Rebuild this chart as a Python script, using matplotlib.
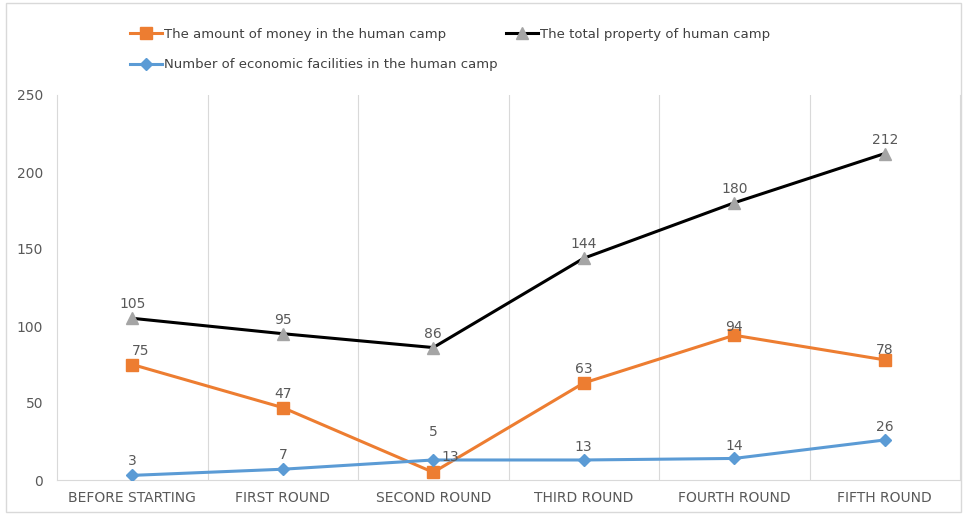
import matplotlib
matplotlib.use("Agg")
import matplotlib.pyplot as plt
from matplotlib.patches import Rectangle

categories = ["BEFORE STARTING", "FIRST ROUND", "SECOND ROUND", "THIRD ROUND", "FOURTH ROUND", "FIFTH ROUND"]
money = [75, 47, 5, 63, 94, 78]
total_property = [105, 95, 86, 144, 180, 212]
facilities = [3, 7, 13, 13, 14, 26]
yticks = [0, 50, 100, 150, 200, 250]

# label offsets in points (style)
money_off = [(6, 5), (0, 5), (0, 24), (0, 5), (0, 1), (0, 2)]
prop_off = [(0, 5), (0, 5), (0, 5), (0, 5), (0, 5), (0, 5)]
fac_off = [(0, 5), (0, 5), (12, -3), (0, 4), (0, 4), (0, 4)]

fig = plt.figure(figsize=(9.67, 5.14), dpi=100)
ax = fig.add_axes([57/967, 34/514, 903/967, 385/514])

x = list(range(len(categories)))
orange = "#ED7D31"
blue = "#5B9BD5"
grey = "#A5A5A5"

l1, = ax.plot(x, money, color=orange, lw=2.2, marker="s", ms=8, label="The amount of money in the human camp", zorder=3)
l2, = ax.plot(x, total_property, color="black", lw=2.2, marker="^", ms=8, mfc=grey, mec=grey, label="The total property of human camp", zorder=3)
l3, = ax.plot(x, facilities, color=blue, lw=2.2, marker="D", ms=6, label="Number of economic facilities in the human camp", zorder=3)

lab_col = "#595959"
for series, offs in ((money, money_off), (total_property, prop_off), (facilities, fac_off)):
    for xi, v, o in zip(x, series, offs):
        ax.annotate(str(v), (xi, v), xytext=o, textcoords="offset points",
                    ha="center", va="bottom", fontsize=10, color=lab_col, zorder=4)

ax.set_xlim(-0.5, len(categories) - 0.5)
ax.set_ylim(0, 250)
ax.set_yticks(yticks)
ax.set_xticks(x)
ax.set_xticklabels(categories)
ax.set_xticks([k + 0.5 for k in range(len(categories) - 1)], minor=True)
ax.grid(which="minor", axis="x", color="#D9D9D9", lw=0.8)
ax.tick_params(which="both", length=0)
ax.tick_params(axis="x", labelsize=10, colors="#595959", pad=8)
ax.tick_params(axis="y", labelsize=10, colors="#595959", pad=10)
for s in ("top",):
    ax.spines[s].set_visible(False)
for s in ("left", "right", "bottom"):
    ax.spines[s].set_color("#D9D9D9")
    ax.spines[s].set_linewidth(0.8)

fig.legend(handles=[l1, l3, l2], ncol=2, loc="upper left", bbox_to_anchor=(130/967, 1 - 28/514),
           frameon=False, fontsize=9.5, handlelength=2.4, handletextpad=0.2, columnspacing=0.6,
           labelspacing=1.3, labelcolor="#404040", borderaxespad=0, borderpad=0)

fig.patches.append(Rectangle((0.006, 0.004), 0.988, 0.99, transform=fig.transFigure,
                             fill=False, edgecolor="#D9D9D9", lw=1))

fig.savefig("out.png", dpi=100)
